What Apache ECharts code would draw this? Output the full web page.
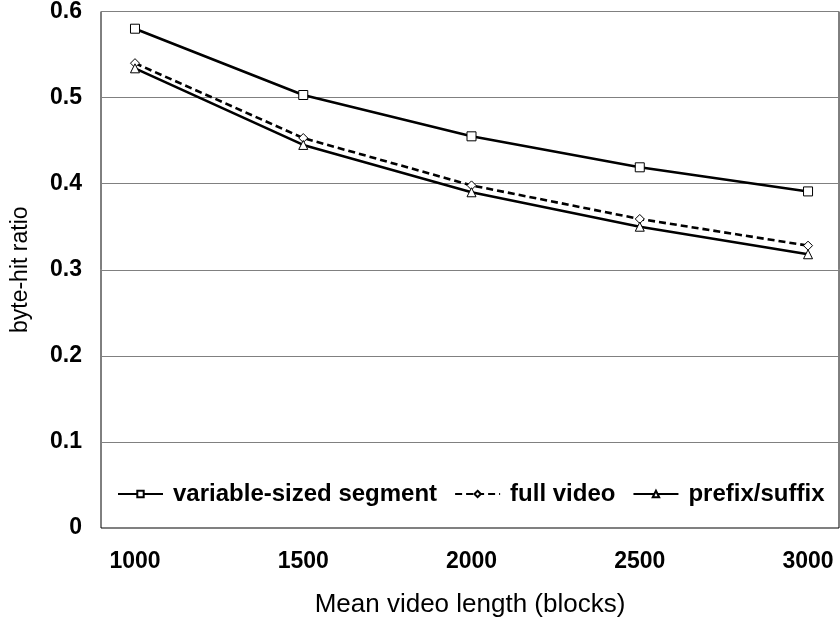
<!DOCTYPE html>
<html><head><meta charset="utf-8">
<script src="https://cdn.jsdelivr.net/npm/echarts@6/dist/echarts.min.js"></script>
<style>html,body{margin:0;padding:0;background:#fff}#c{width:840px;height:623px}</style>
</head><body><div id="c"></div>
<script>
const xValues = [1000, 1500, 2000, 2500, 3000];
const variableSized = [0.58, 0.503, 0.455, 0.419, 0.391];
const fullVideo = [0.54, 0.453, 0.398, 0.359, 0.328];
const prefixSuffix = [0.534, 0.445, 0.390, 0.350, 0.318];
const yTicks = [0, 0.1, 0.2, 0.3, 0.4, 0.5, 0.6];

const F = '"Liberation Sans", Arial, sans-serif';
const pair = arr => xValues.map((x, i) => [x, arr[i]]);
function mk(name, data, symbol, dashed) {
  return {
    name, type: 'line', data: pair(data), symbol, symbolSize: 9,
    showAllSymbol: true,
    lineStyle: { color: '#000', width: 2.6, type: dashed ? [7, 4] : 'solid' },
    itemStyle: { color: '#fff', borderColor: '#000', borderWidth: 1 },
    emphasis: { disabled: true }, animation: false, z: 3
  };
}
const chart = echarts.init(document.getElementById('c'));
chart.setOption({
  backgroundColor: '#fff',
  animation: false,
  grid: { left: 101, right: 1, top: 11, bottom: 95, show: true, borderColor: '#000', borderWidth: 1 },
  xAxis: {
    type: 'value', min: 899, max: 3092,
    name: 'Mean video length (blocks)', nameLocation: 'middle', nameGap: 64,
    nameTextStyle: { fontFamily: F, fontSize: 26, color: '#000' },
    axisLine: { show: false }, axisTick: { show: false }, splitLine: { show: false },
    axisLabel: { customValues: xValues, fontFamily: F, fontSize: 23, fontWeight: 'bold', color: '#000', margin: 22,
      formatter: v => String(v) }
  },
  yAxis: {
    type: 'value', min: 0, max: 0.6, interval: 0.1,
    name: 'byte-hit ratio', nameLocation: 'middle', nameGap: 69,
    nameTextStyle: { fontFamily: F, fontSize: 23, color: '#000' },
    axisLine: { show: false }, axisTick: { show: false },
    splitLine: { lineStyle: { color: '#808080', width: 1 } },
    axisLabel: { fontFamily: F, fontSize: 23, fontWeight: 'bold', color: '#000', margin: 19,
      formatter: v => { const t = yTicks.find(k => Math.abs(k - v) < 1e-9); return t === 0 ? '0' : String(t); } }
  },
  legend: {
    left: 112, top: 477, itemWidth: 45, itemHeight: 8, itemGap: 17,
    textStyle: { fontFamily: F, fontSize: 24, fontWeight: 'bold', color: '#000', padding: [0, 0, 0, 5] },
    data: ['variable-sized segment', 'full video', 'prefix/suffix']
  },
  series: [
    mk('variable-sized segment', variableSized, 'rect', false),
    mk('full video', fullVideo, 'diamond', true),
    mk('prefix/suffix', prefixSuffix, 'triangle', false)
  ]
});
</script></body></html>
